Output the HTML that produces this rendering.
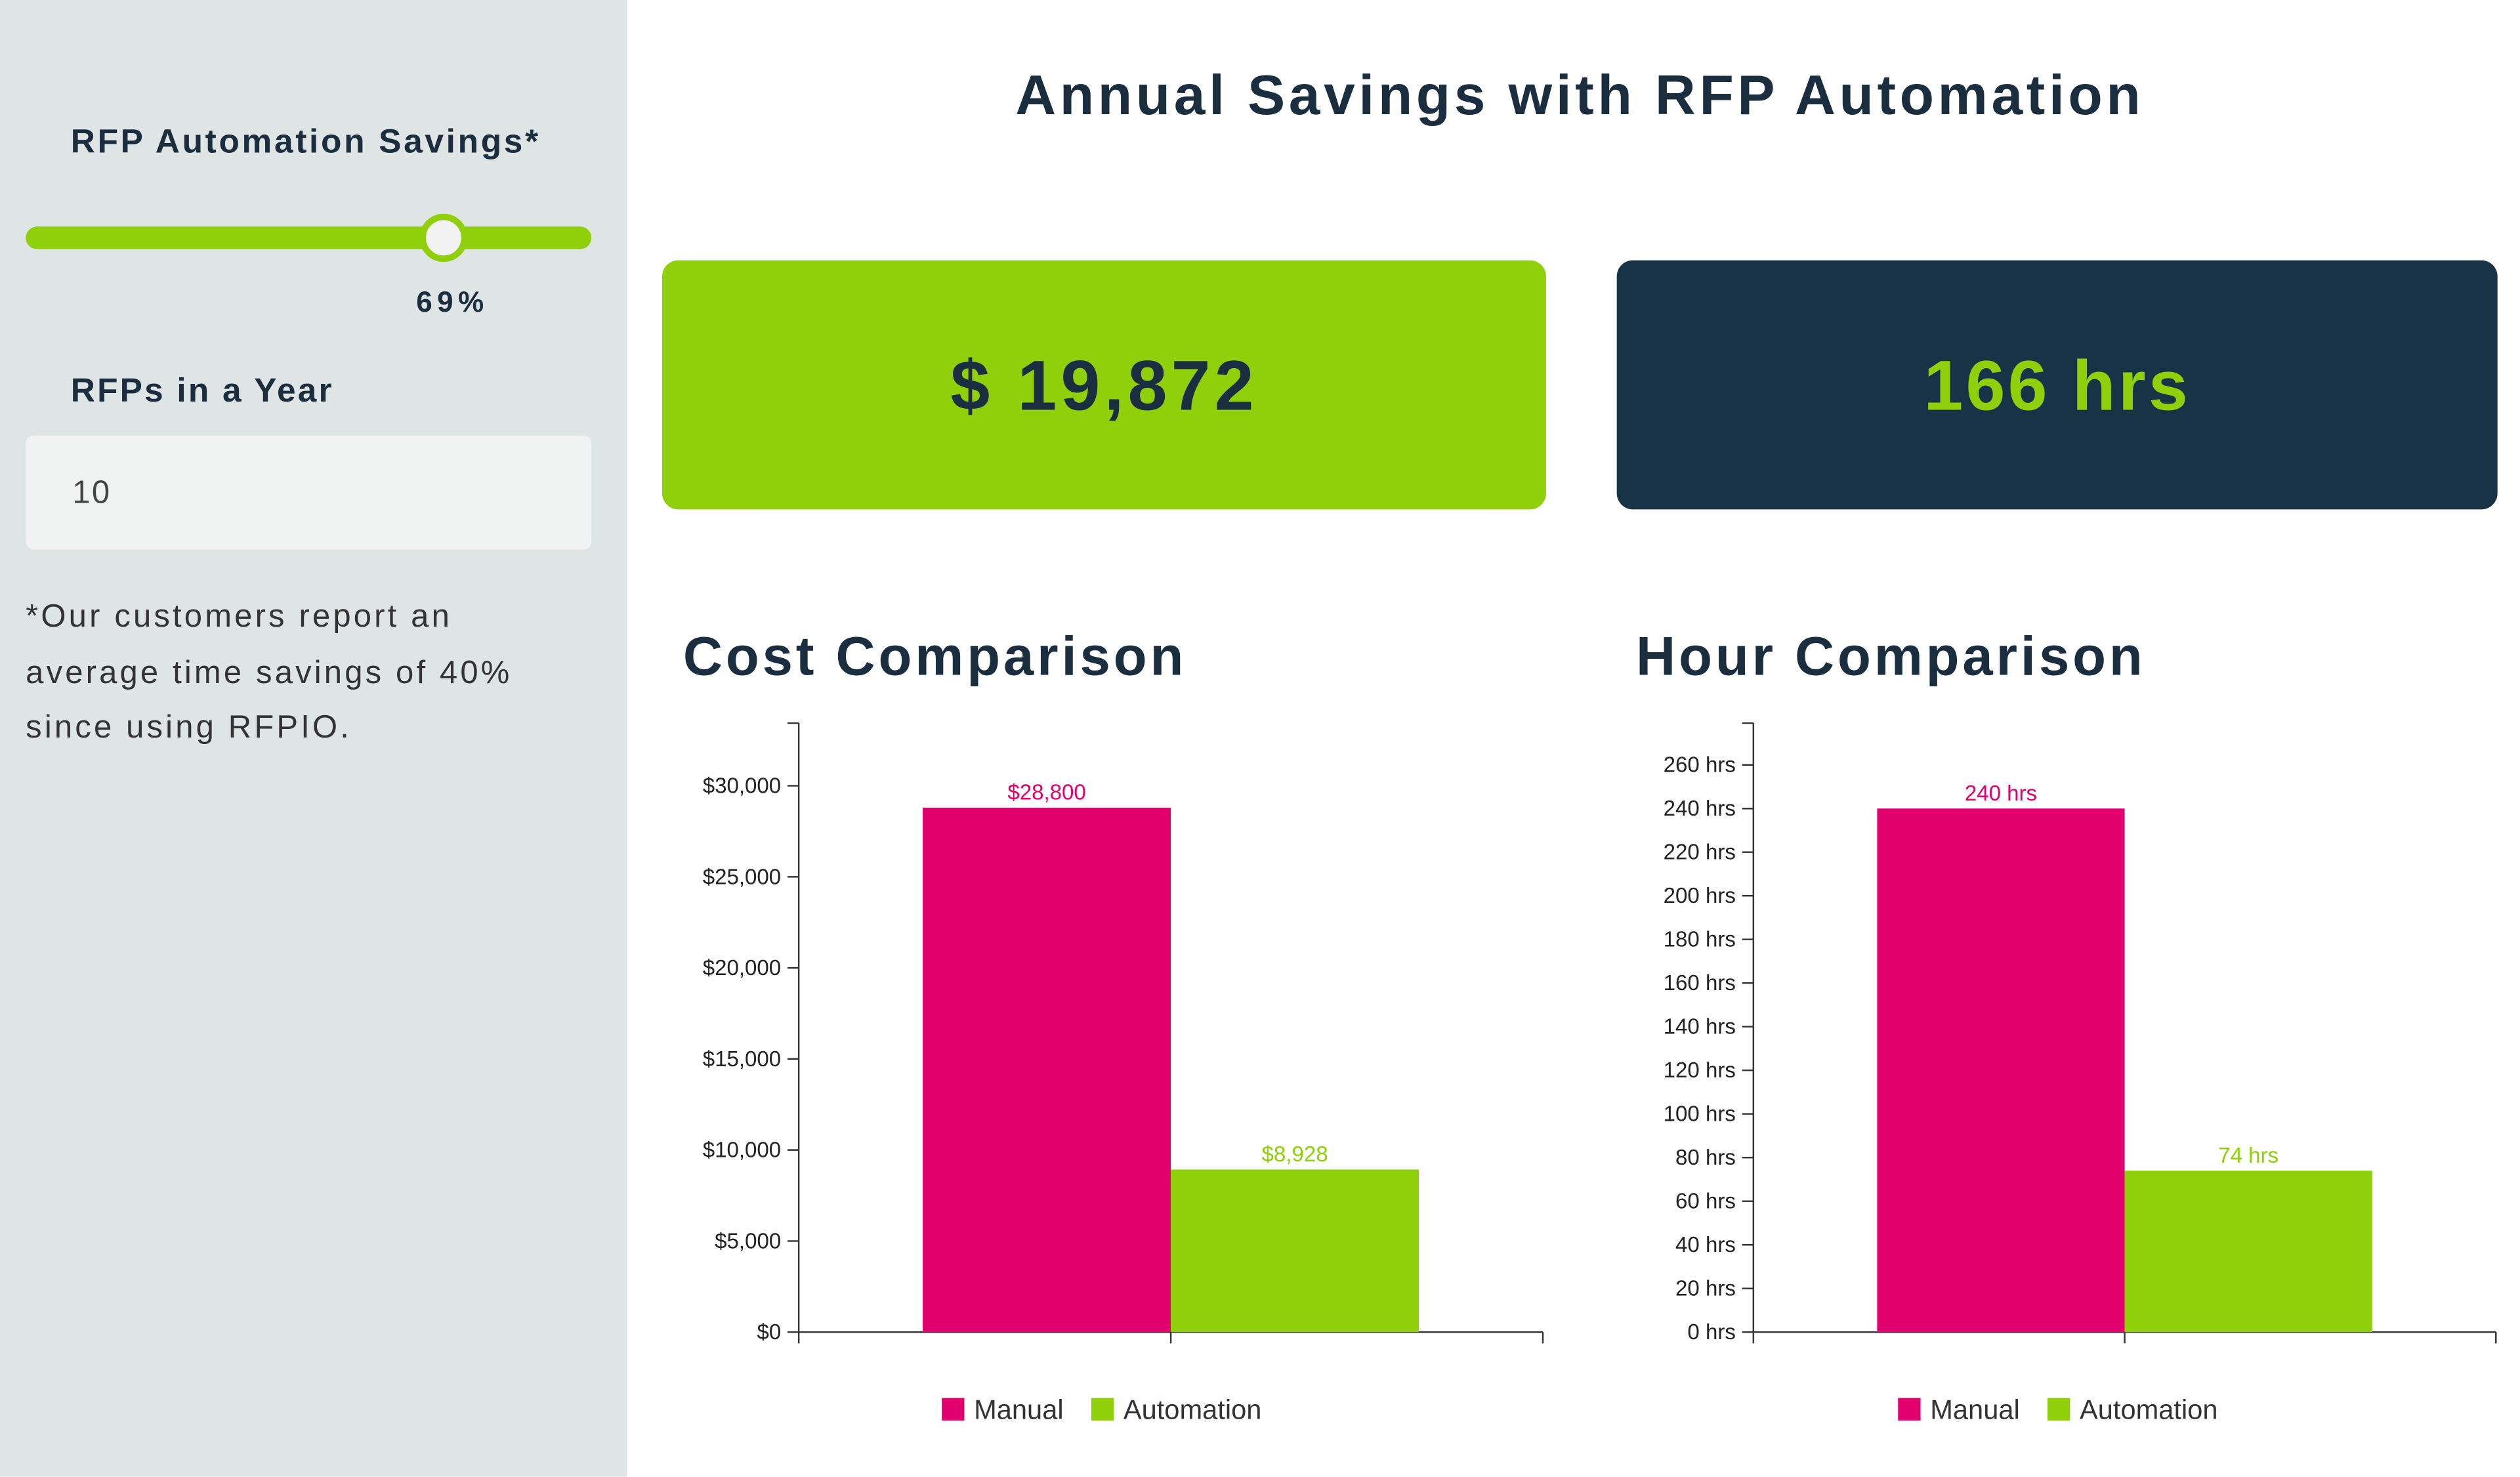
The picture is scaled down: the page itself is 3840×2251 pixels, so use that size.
<!DOCTYPE html>
<html><head><meta charset="utf-8">
<style>
html,body{margin:0;padding:0;width:3840px;height:2251px;overflow:hidden;background:#fff;}
#wrap{position:absolute;left:0;top:0;width:1568px;height:919px;transform:scale(2.44898);transform-origin:0 0;font-family:"Liberation Sans",sans-serif;}
.abs{position:absolute;white-space:nowrap;}
#side{position:absolute;left:0;top:0;width:390px;height:919px;background:#dfe5e5;}
.lbl{font-weight:bold;font-size:21px;color:#1a2e3f;}
</style></head><body>
<div id="wrap">
  <div id="side">
    <div class="abs lbl" style="left:44px;top:77px;letter-spacing:1.5px;">RFP Automation Savings*</div>
    <div class="abs" style="left:16px;top:141px;width:352px;height:14px;border-radius:7px;background:#8fd00a;"></div>
    <div class="abs" style="left:261px;top:133px;width:22px;height:22px;border-radius:50%;background:#f2f2f2;border:4px solid #8fd00a;"></div>
    <div class="abs" style="left:259px;top:178px;font-weight:bold;font-size:18px;color:#1a2e3f;letter-spacing:3px;">69%</div>
    <div class="abs lbl" style="left:44px;top:232px;letter-spacing:1.3px;">RFPs in a Year</div>
    <div class="abs" style="left:16px;top:271px;width:352px;height:71px;border-radius:5px;background:#f1f2f2;">
      <span class="abs" style="left:29px;top:25px;font-size:20px;color:#444;letter-spacing:1px;">10</span>
    </div>
    <div class="abs" style="left:16px;top:367px;font-size:20px;line-height:34.5px;color:#333;letter-spacing:1.7px;">*Our customers report an<br>average time savings of 40%<br>since using RFPIO.</div>
  </div>
  <div class="abs" style="left:390px;width:1178px;top:40px;text-align:center;font-weight:bold;font-size:35px;color:#1a2e3f;padding-left:8px;box-sizing:border-box;letter-spacing:2.3px;">Annual Savings with RFP Automation</div>
  <div class="abs" style="left:412px;top:162px;width:550px;height:155px;border-radius:10px;background:#8fd00a;text-align:center;line-height:157px;font-weight:bold;font-size:44px;color:#1a2e3f;letter-spacing:2.5px;">$ 19,872</div>
  <div class="abs" style="left:1006px;top:162px;width:548px;height:155px;border-radius:10px;background:#183246;text-align:center;line-height:157px;font-weight:bold;font-size:44px;color:#8fd00a;letter-spacing:1.7px;">166 hrs</div>
  <div class="abs" style="left:425px;top:390px;font-weight:bold;font-size:34px;color:#1a2e3f;letter-spacing:2px;">Cost Comparison</div>
  <div class="abs" style="left:1018px;top:390px;font-weight:bold;font-size:34px;color:#1a2e3f;letter-spacing:2px;">Hour Comparison</div>
  <svg id="charts" class="abs" style="left:0;top:0;" width="1568" height="919"></svg>
</div>
<script>
const categories = ["Manual", "Automation"];
const colors = ["#e2006e", "#8fd00a"];
const costValues = [28800, 8928];
const costLabels = ["$28,800", "$8,928"];
const costTicks = [0, 5000, 10000, 15000, 20000, 25000, 30000];
const costTickLabels = ["$0", "$5,000", "$10,000", "$15,000", "$20,000", "$25,000", "$30,000"];
const hourValues = [240, 74];
const hourLabels = ["240 hrs", "74 hrs"];
const hourTicks = [0,20,40,60,80,100,120,140,160,180,200,220,240,260];
const hourTickLabels = hourTicks.map(v => v + " hrs");

const NS = "http://www.w3.org/2000/svg";
const svg = document.getElementById("charts");
function mk(tag, attrs, parent) {
  const e = document.createElementNS(NS, tag);
  for (const k in attrs) e.setAttribute(k, attrs[k]);
  (parent || svg).appendChild(e);
  return e;
}
function drawChart(cfg) {
  const g = mk("g", {});
  
  
  const x0 = cfg.x0, x1 = cfg.x1, yb = 829, yTop = 450;
  const y = v => yb - (v / cfg.max) * cfg.span;
  const ya = mk("line", {x1:x0, y1:yTop, x2:x0, y2:836, stroke:"#333", "stroke-width":1}, g);
  
  
  mk("line", {x1:x0-7, y1:yTop, x2:x0, y2:yTop, stroke:"#333", "stroke-width":1}, g);
  const xa = mk("line", {x1:x0, y1:yb, x2:x1, y2:yb, stroke:"#333", "stroke-width":1}, g);
  
  
  mk("line", {x1:x1, y1:yb, x2:x1, y2:836, stroke:"#333", "stroke-width":1}, g);
  const bw = (x1 - x0) / 3;
  const mid = x0 + (x1 - x0) / 2;
  mk("line", {x1:mid, y1:yb, x2:mid, y2:836, stroke:"#333", "stroke-width":1}, g);
  cfg.ticks.forEach((t, i) => {
    mk("line", {x1:x0-7, y1:y(t), x2:x0, y2:y(t), stroke:"#333", "stroke-width":1}, g);
    const tx = mk("text", {x:x0-11, y:y(t)+4.5, "text-anchor":"end", "font-size":13.5, fill:"#222", "font-family":"Liberation Sans, sans-serif"}, g);
    tx.textContent = cfg.tickLabels[i];
    
    
  });
  cfg.values.forEach((v, i) => {
    const bx = mid - bw + i * bw;
    const r = mk("rect", {x:bx, y:y(v), width:bw, height:yb - y(v), fill:colors[i]}, g);
    
    
    const lt = mk("text", {x:bx + bw/2, y:y(v)-5, "text-anchor":"middle", "font-size":13.5, fill:colors[i], "font-family":"Liberation Sans, sans-serif"}, g);
    lt.textContent = cfg.labels[i];
    
    
  });
  let lx = cfg.legendX;
  categories.forEach((c, i) => {
    const sq = mk("rect", {x:lx, y:870, width:14, height:14, fill:colors[i]}, g);
    
    
    const lt = mk("text", {x:lx+20, y:883, "font-size":17, fill:"#333", "font-family":"Liberation Sans, sans-serif"}, g);
    lt.textContent = c;
    
    
    lx += (i === 0 ? 93 : 0);
  });
}
drawChart({name:"cost-chart", x0:497, x1:960, max:30000, span:340, ticks:costTicks, tickLabels:costTickLabels, values:costValues, labels:costLabels, legendX:586});
drawChart({name:"hour-chart", x0:1091, x1:1553, max:260, span:353, ticks:hourTicks, tickLabels:hourTickLabels, values:hourValues, labels:hourLabels, legendX:1181});
</script>
</body></html>
